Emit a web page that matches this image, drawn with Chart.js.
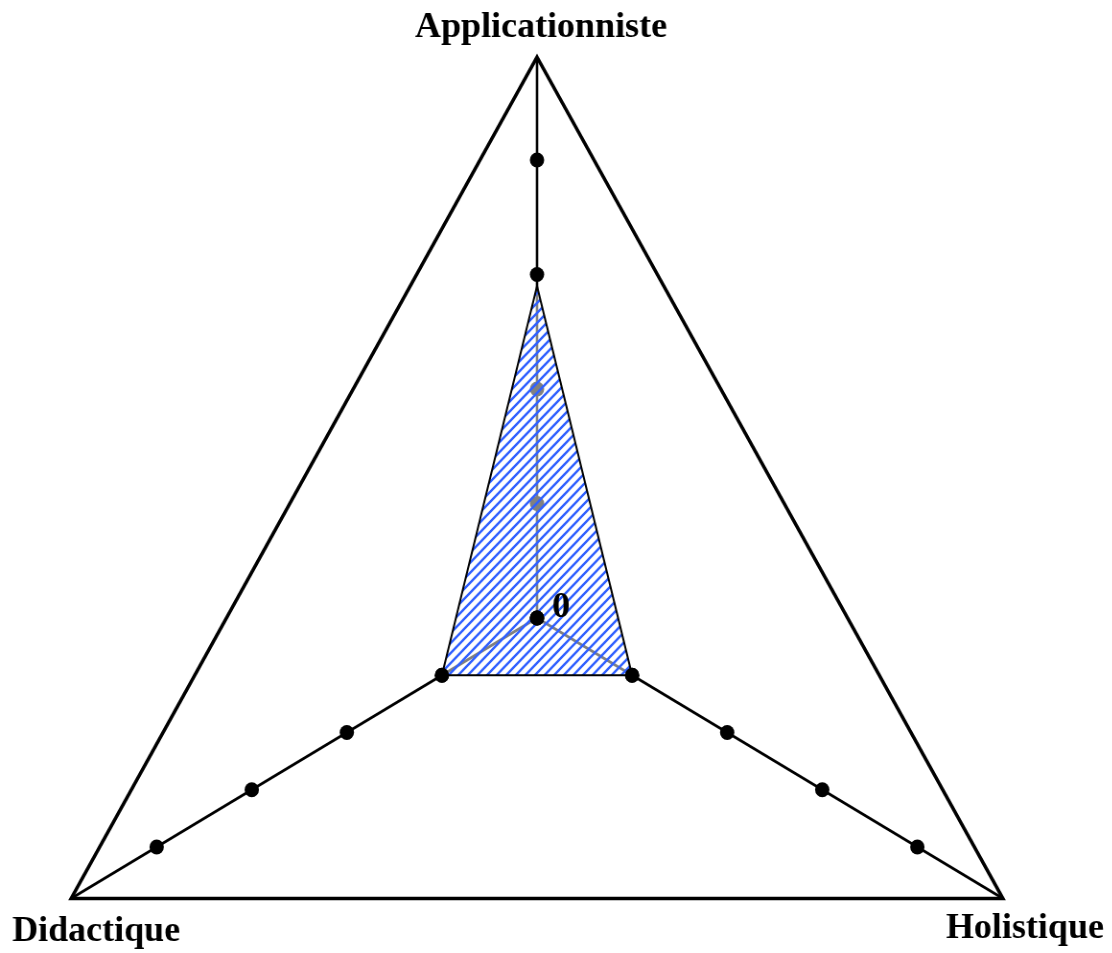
<!DOCTYPE html>
<html>
<head>
<meta charset="utf-8">
<script src="https://cdn.jsdelivr.net/npm/chart.js@4.4.1/dist/chart.umd.min.js"></script>
<style>
    html, body { margin: 0; padding: 0; background: #fff; overflow: hidden; }
    #radar {
        display: block;
        margin-left: -30px;
        transform: scaleX(0.959);
        transform-origin: 567px 0;
    }
</style>
</head>
<body>
<canvas id="radar" width="1200" height="953"></canvas>
<script>
"use strict";

// axes, clockwise from the top
const axisLabels = ["Applicationniste", "Holistique", "Didactique"];
const profileValues = [2.9, 1, 1];
const tickValues = [0, 1, 2, 3, 4];
const scaleMax = 4.9;
const centerTickLabel = "0";

// picture is squeezed horizontally; text gets undone so it keeps its width
const SQUEEZE = 0.959;
const CANVAS_CX = 567;   // centre in canvas pixels (canvas is shifted 30px left)
const SCREEN_CX = 537;
const CY = 618, RADIUS = 561;
const FONT = "bold 36px 'Liberation Serif', 'Times New Roman', serif";

function hatchPattern() {
    const c = document.createElement("canvas");
    c.width = 10;
    c.height = 10;
    const g = c.getContext("2d");
    g.fillStyle = "rgba(255,255,255,0.5)";
    g.fillRect(0, 0, 10, 10);
    g.strokeStyle = "#3060ff";
    g.lineWidth = 2.4;
    g.beginPath();
    g.moveTo(-1, 11); g.lineTo(11, -1);
    g.moveTo(-6, 6); g.lineTo(6, -6);
    g.moveTo(4, 16); g.lineTo(16, 4);
    g.stroke();
    return g.createPattern(c, "repeat");
}

function toCanvasX(screenX) {
    return CANVAS_CX + (screenX - SCREEN_CX) / SQUEEZE;
}
function toScreenX(canvasX) {
    return SCREEN_CX + (canvasX - CANVAS_CX) * SQUEEZE;
}

const labelOffsets = [
    {dx: 4, dy: -20},
    {dx: 22, dy: 39},
    {dx: 25, dy: 42}
];

const textPlugin = {
    id: "textPlugin",
    afterDraw(chart) {
        const scale = chart.scales.r;
        const ctx = chart.ctx;
        ctx.save();
        ctx.font = FONT;
        ctx.fillStyle = "#000";
        ctx.textAlign = "center";
        ctx.textBaseline = "alphabetic";
        axisLabels.forEach((label, i) => {
            const p = scale.getPointPositionForValue(i, scale.max);
            const sx = toScreenX(p.x) + labelOffsets[i].dx;
            ctx.save();
            ctx.translate(toCanvasX(sx), p.y + labelOffsets[i].dy);
            ctx.scale(1 / SQUEEZE, 1);
            ctx.fillText(label, 0, 0);
            ctx.restore();
        });

        // the zero tick label, beside the centre
        const c = scale.getPointPositionForValue(0, 0);
        ctx.save();
        ctx.translate(toCanvasX(toScreenX(c.x) + 24), c.y - 1);
        ctx.scale(1 / SQUEEZE, 1);
        ctx.fillText(centerTickLabel, 0, 0);
        ctx.restore();
        ctx.restore();
    }
};

const dotDatasets = tickValues.map(v => ({
    label: "tick " + v,
    data: axisLabels.map(() => v),
    showLine: false,
    fill: false,
    borderWidth: 0,
    backgroundColor: "transparent",
    pointBackgroundColor: "#000",
    pointBorderWidth: 0,
    pointRadius: 7.5,
    order: v === 0 ? 0 : 2
}));

const profileDataset = {
    label: "profil",
    data: profileValues,
    fill: true,
    backgroundColor: hatchPattern(),
    borderColor: "#000",
    borderWidth: 2,
    pointRadius: profileValues.map((v, i) => i === 0 ? 0 : 7.5),
    pointBackgroundColor: "#000",
    pointBorderWidth: 0,
    order: 1
};

new Chart(document.getElementById("radar"), {
    type: "radar",
    data: {
        labels: axisLabels,
        datasets: [profileDataset].concat(dotDatasets)
    },
    options: {
        responsive: false,
        devicePixelRatio: 1,
        animation: false,
        layout: {padding: 0},
        plugins: {
            legend: {display: false},
            tooltip: {enabled: false}
        },
        elements: {line: {tension: 0}},
        scales: {
            r: {
                min: 0,
                max: scaleMax,
                ticks: {display: false, stepSize: 1},
                pointLabels: {display: false},
                angleLines: {color: "#000", lineWidth: 2.6},
                grid: {
                    color: ctx => ctx.tick && ctx.tick.value === scaleMax ? "#000" : "rgba(0,0,0,0)",
                    lineWidth: 3.5
                },
                afterFit(scale) {
                    scale.xCenter = CANVAS_CX;
                    scale.yCenter = CY;
                    scale.drawingArea = RADIUS;
                }
            }
        }
    },
    plugins: [textPlugin]
});
</script>
</body>
</html>
